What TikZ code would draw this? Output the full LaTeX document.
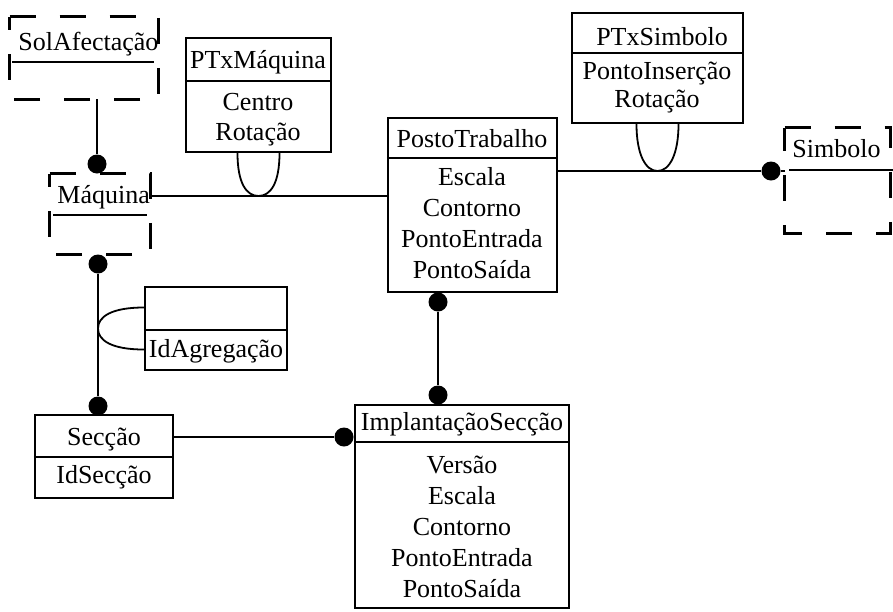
\documentclass[tikz,border=0pt]{standalone}
\usepackage{fontspec}
\setmainfont{Liberation Serif}
\usetikzlibrary{fit,calc}
\tikzset{
  ent/.style={draw, line width=1.2pt, inner sep=0pt},
  ghost/.style={inner sep=0pt},
  dashedge/.style={line width=1.4pt, dash pattern=on 13pt off 12pt},
  lbl/.style={inner sep=0pt, anchor=base, font=\fontsize{13}{15}\selectfont},
  lblw/.style={lbl, anchor=base west},
  rule/.style={line width=1.1pt},
  conn/.style={line width=0.9pt},
  dot/.style={circle, fill, inner sep=0pt, minimum size=9.5pt},
}
\begin{document}
\begin{tikzpicture}[x=0.5pt, y=-0.5pt]
\useasboundingbox (0,0) rectangle (893,611);

% ---------- dashed (weak) entities ----------
\node[ghost, fit={(10,17)(158,99)}] (sol) {};
\draw[dashedge] (sol.north west) -- (sol.north east) -- (sol.south east) -- (sol.south west) -- cycle;
\node[lblw] (sol-t) at (18,50) {SolAfectação};
\draw[rule] (12,62) -- (154,62);

\node[ghost, fit={(50,174)(150,254)}] (mq) {};
\draw[dashedge] (mq.north west) -- (mq.north east) -- (mq.south east) -- (mq.south west) -- cycle;
\node[lblw] (mq-t) at (57,203) {Máquina};
\draw[rule] (53,215) -- (147,215);

\node[ghost, fit={(785,128)(890,233)}] (sym) {};
\draw[dashedge] (sym.north west) -- (sym.north east) -- (sym.south east) -- (sym.south west) -- cycle;
\node[lblw] (sym-t) at (792,157) {Simbolo};
\draw[rule] (789,170) -- (893,170);

% ---------- entities ----------
\node[ent, fit={(186,38)(331,152)}] (ptm) {};
\node[lbl] (ptm-t) at (258,68) {PTxMáquina};
\draw[rule] (ptm.west |- 0,81) -- (ptm.east |- 0,81);
\node[lbl] (ptm-1) at (258,110) {Centro};
\node[lbl] (ptm-2) at (258,140) {Rotação};

\node[ent, fit={(572,13)(743,123)}] (pts) {};
\node[lbl] (pts-t) at (662,45) {PTxSimbolo};
\draw[rule] (pts.west |- 0,53) -- (pts.east |- 0,53);
\node[lbl] (pts-1) at (657,79) {PontoInserção};
\node[lbl] (pts-2) at (657,107) {Rotação};

\node[ent, fit={(388,118)(557,292)}] (pt) {};
\node[lbl] (pt-t) at (472,147) {PostoTrabalho};
\draw[rule] (pt.west |- 0,158) -- (pt.east |- 0,158);
\foreach \a [count=\i] in {Escala,Contorno,PontoEntrada,PontoSaída}
  \node[lbl] (pt-\i) at (472,{185+31*(\i-1)}) {\a};

\node[ent, fit={(145,287)(287,370)}] (agg) {};
\draw[rule] (agg.west |- 0,330) -- (agg.east |- 0,330);
\node[lbl] (agg-1) at (216,357) {IdAgregação};

\node[ent, fit={(35,415)(173,498)}] (sec) {};
\node[lbl] (sec-t) at (104,445) {Secção};
\draw[rule] (sec.west |- 0,457) -- (sec.east |- 0,457);
\node[lbl] (sec-1) at (104,483) {IdSecção};

\node[ent, fit={(355,405)(569,608)}] (imp) {};
\node[lbl] (imp-t) at (462,430) {ImplantaçãoSecção};
\draw[rule] (imp.west |- 0,442) -- (imp.east |- 0,442);
\foreach \a [count=\i] in {Versão,Escala,Contorno,PontoEntrada,PontoSaída}
  \node[lbl] (imp-\i) at (462,{473+31*(\i-1)}) {\a};

% ---------- connector ends ----------
\node[dot] (d-sol) at (97,164) {};
\node[dot] (d-mqb) at (98,264) {};
\node[dot] (d-sec) at (98,406) {};
\node[dot] (d-imps) at (344,437) {};
\node[dot] (d-pt) at (438,302) {};
\node[dot] (d-impt) at (438,395) {};
\node[dot] (d-sym) at (771,171) {};

% ---------- connectors ----------
\draw[conn] (sol.south -| d-sol) -- (d-sol);
\draw[conn] (d-mqb) -- (d-sec);
\draw[conn] (sec.east |- d-imps) -- (d-imps);
\draw[conn] (d-pt) -- (d-impt);

\coordinate (jmq) at (150,196);
\draw[conn] (jmq) -- (jmq -| pt.west);
\draw[conn] (pt.east |- d-sym) -- (d-sym) -- (d-sym -| sym.west);

% relationship loops
\coordinate (ptm-l) at (ptm.south |- jmq);
\draw[conn] ($(ptm.south)+(-21,0)$) .. controls ($(ptm.south)+(-21,30)$) and ($(ptm-l)+(-12,0)$) .. (ptm-l)
            .. controls ($(ptm-l)+(12,0)$) and ($(ptm.south)+(21,30)$) .. ($(ptm.south)+(21,0)$);
\coordinate (pts-l) at (pts.south |- d-sym);
\draw[conn] ($(pts.south)+(-21,0)$) .. controls ($(pts.south)+(-21,30)$) and ($(pts-l)+(-12,0)$) .. (pts-l)
            .. controls ($(pts-l)+(12,0)$) and ($(pts.south)+(21,30)$) .. ($(pts.south)+(21,0)$);
\coordinate (agg-l) at (d-mqb |- agg.west);
\draw[conn] ($(agg.west)+(0,-21)$) .. controls ($(agg.west)+(-32,-21)$) and ($(agg-l)+(0,-12)$) .. (agg-l)
            .. controls ($(agg-l)+(0,12)$) and ($(agg.west)+(-32,21)$) .. ($(agg.west)+(0,21)$);
\end{tikzpicture}
\end{document}
